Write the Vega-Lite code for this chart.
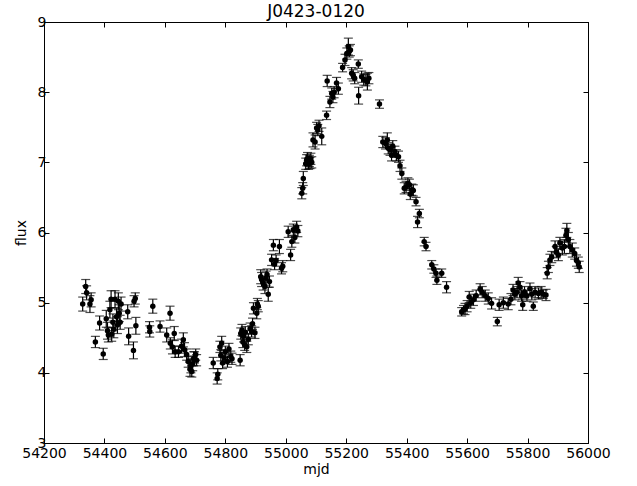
{
  "$schema": "https://vega.github.io/schema/vega-lite/v6.json",
  "width": 544,
  "height": 421,
  "autosize": {"type": "none"},
  "padding": {"left": 44, "top": 22, "right": 49, "bottom": 43},
  "background": "white",
  "title": {"text": "J0423-0120", "font": "DejaVu Sans", "fontSize": 17, "fontWeight": "normal", "color": "black", "offset": 3, "dy": 9},
  "config": {
    "view": {"stroke": "black", "strokeWidth": 1},
    "axis": {
      "grid": false,
      "domainColor": "black",
      "tickColor": "black",
      "tickSize": -5,
      "labelFont": "DejaVu Sans",
      "labelFontSize": 14,
      "labelColor": "black",
      "labelFlush": false,
      "labelOverlap": false,
      "titleFont": "DejaVu Sans",
      "titleFontSize": 14,
      "titleFontWeight": "normal",
      "titleColor": "black"
    }
  },
  "data": {"values": [
    {"mjd": 54328, "flux": 4.98, "err": 0.10}, {"mjd": 54338, "flux": 5.23, "err": 0.10}, {"mjd": 54341, "flux": 5.14, "err": 0.10},
    {"mjd": 54352, "flux": 4.98, "err": 0.12}, {"mjd": 54356, "flux": 5.04, "err": 0.10}, {"mjd": 54370, "flux": 4.44, "err": 0.08},
    {"mjd": 54384, "flux": 4.71, "err": 0.10}, {"mjd": 54396, "flux": 4.27, "err": 0.08}, {"mjd": 54406, "flux": 4.77, "err": 0.12},
    {"mjd": 54410, "flux": 4.60, "err": 0.12}, {"mjd": 54413, "flux": 4.54, "err": 0.10}, {"mjd": 54418, "flux": 4.90, "err": 0.12},
    {"mjd": 54422, "flux": 5.05, "err": 0.12}, {"mjd": 54424, "flux": 4.55, "err": 0.10}, {"mjd": 54428, "flux": 4.72, "err": 0.12},
    {"mjd": 54431, "flux": 4.62, "err": 0.12}, {"mjd": 54435, "flux": 5.05, "err": 0.12}, {"mjd": 54440, "flux": 4.80, "err": 0.12},
    {"mjd": 54443, "flux": 4.68, "err": 0.12}, {"mjd": 54446, "flux": 5.02, "err": 0.12}, {"mjd": 54449, "flux": 4.85, "err": 0.12},
    {"mjd": 54452, "flux": 4.72, "err": 0.10}, {"mjd": 54455, "flux": 4.98, "err": 0.10}, {"mjd": 54477, "flux": 4.87, "err": 0.10},
    {"mjd": 54480, "flux": 4.52, "err": 0.12}, {"mjd": 54496, "flux": 4.32, "err": 0.12}, {"mjd": 54498, "flux": 5.02, "err": 0.08},
    {"mjd": 54502, "flux": 5.06, "err": 0.08}, {"mjd": 54504, "flux": 4.67, "err": 0.12},
    {"mjd": 54549, "flux": 4.65, "err": 0.08}, {"mjd": 54550, "flux": 4.59, "err": 0.08}, {"mjd": 54560, "flux": 4.95, "err": 0.10},
    {"mjd": 54584, "flux": 4.66, "err": 0.08}, {"mjd": 54606, "flux": 4.54, "err": 0.10}, {"mjd": 54617, "flux": 4.85, "err": 0.10},
    {"mjd": 54618, "flux": 4.42, "err": 0.08}, {"mjd": 54625, "flux": 4.37, "err": 0.10}, {"mjd": 54631, "flux": 4.56, "err": 0.10},
    {"mjd": 54634, "flux": 4.30, "err": 0.08}, {"mjd": 54645, "flux": 4.30, "err": 0.08}, {"mjd": 54655, "flux": 4.38, "err": 0.10},
    {"mjd": 54661, "flux": 4.47, "err": 0.10}, {"mjd": 54665, "flux": 4.33, "err": 0.10}, {"mjd": 54672, "flux": 4.26, "err": 0.08},
    {"mjd": 54677, "flux": 4.16, "err": 0.08}, {"mjd": 54683, "flux": 4.05, "err": 0.10}, {"mjd": 54686, "flux": 4.10, "err": 0.10},
    {"mjd": 54689, "flux": 4.02, "err": 0.08}, {"mjd": 54692, "flux": 4.13, "err": 0.10}, {"mjd": 54695, "flux": 4.20, "err": 0.10},
    {"mjd": 54698, "flux": 4.22, "err": 0.08}, {"mjd": 54702, "flux": 4.26, "err": 0.08}, {"mjd": 54705, "flux": 4.18, "err": 0.08},
    {"mjd": 54760, "flux": 4.14, "err": 0.08}, {"mjd": 54773, "flux": 3.92, "err": 0.08}, {"mjd": 54775, "flux": 3.98, "err": 0.08},
    {"mjd": 54782, "flux": 4.37, "err": 0.08}, {"mjd": 54785, "flux": 4.25, "err": 0.08}, {"mjd": 54788, "flux": 4.42, "err": 0.10},
    {"mjd": 54791, "flux": 4.14, "err": 0.08}, {"mjd": 54796, "flux": 4.21, "err": 0.08}, {"mjd": 54800, "flux": 4.30, "err": 0.08},
    {"mjd": 54807, "flux": 4.16, "err": 0.08}, {"mjd": 54812, "flux": 4.34, "err": 0.08}, {"mjd": 54818, "flux": 4.23, "err": 0.08},
    {"mjd": 54822, "flux": 4.20, "err": 0.08}, {"mjd": 54849, "flux": 4.18, "err": 0.08}, {"mjd": 54851, "flux": 4.56, "err": 0.08},
    {"mjd": 54855, "flux": 4.61, "err": 0.08}, {"mjd": 54858, "flux": 4.44, "err": 0.08}, {"mjd": 54860, "flux": 4.52, "err": 0.08},
    {"mjd": 54864, "flux": 4.40, "err": 0.08}, {"mjd": 54866, "flux": 4.58, "err": 0.08}, {"mjd": 54871, "flux": 4.37, "err": 0.08},
    {"mjd": 54876, "flux": 4.48, "err": 0.08}, {"mjd": 54882, "flux": 4.63, "err": 0.08}, {"mjd": 54887, "flux": 4.59, "err": 0.08},
    {"mjd": 54890, "flux": 4.70, "err": 0.08}, {"mjd": 54893, "flux": 4.92, "err": 0.08}, {"mjd": 54898, "flux": 4.57, "err": 0.08},
    {"mjd": 54904, "flux": 4.85, "err": 0.08}, {"mjd": 54906, "flux": 4.98, "err": 0.08}, {"mjd": 54909, "flux": 4.95, "err": 0.08},
    {"mjd": 54917, "flux": 5.37, "err": 0.10}, {"mjd": 54920, "flux": 5.33, "err": 0.10}, {"mjd": 54925, "flux": 5.28, "err": 0.10},
    {"mjd": 54931, "flux": 5.23, "err": 0.10}, {"mjd": 54935, "flux": 5.35, "err": 0.10}, {"mjd": 54938, "flux": 5.40, "err": 0.08},
    {"mjd": 54942, "flux": 5.12, "err": 0.10}, {"mjd": 54946, "flux": 5.30, "err": 0.08}, {"mjd": 54953, "flux": 5.61, "err": 0.08},
    {"mjd": 54959, "flux": 5.82, "err": 0.08}, {"mjd": 54963, "flux": 5.55, "err": 0.08}, {"mjd": 54968, "flux": 5.60, "err": 0.08},
    {"mjd": 54979, "flux": 5.80, "err": 0.10}, {"mjd": 54986, "flux": 5.49, "err": 0.08}, {"mjd": 54990, "flux": 5.52, "err": 0.08},
    {"mjd": 55008, "flux": 6.01, "err": 0.08}, {"mjd": 55016, "flux": 5.68, "err": 0.08}, {"mjd": 55020, "flux": 5.87, "err": 0.08},
    {"mjd": 55025, "flux": 6.04, "err": 0.08}, {"mjd": 55030, "flux": 5.93, "err": 0.08}, {"mjd": 55036, "flux": 6.08, "err": 0.08},
    {"mjd": 55040, "flux": 6.02, "err": 0.08}, {"mjd": 55053, "flux": 6.56, "err": 0.08}, {"mjd": 55056, "flux": 6.63, "err": 0.08},
    {"mjd": 55058, "flux": 6.77, "err": 0.10}, {"mjd": 55066, "flux": 6.98, "err": 0.08}, {"mjd": 55069, "flux": 7.03, "err": 0.08},
    {"mjd": 55072, "flux": 7.06, "err": 0.08}, {"mjd": 55075, "flux": 6.98, "err": 0.08}, {"mjd": 55078, "flux": 7.02, "err": 0.08},
    {"mjd": 55080, "flux": 6.99, "err": 0.08}, {"mjd": 55083, "flux": 7.05, "err": 0.08}, {"mjd": 55086, "flux": 7.00, "err": 0.08},
    {"mjd": 55090, "flux": 7.32, "err": 0.10}, {"mjd": 55097, "flux": 7.29, "err": 0.10}, {"mjd": 55102, "flux": 7.49, "err": 0.08},
    {"mjd": 55106, "flux": 7.46, "err": 0.08}, {"mjd": 55110, "flux": 7.52, "err": 0.08}, {"mjd": 55119, "flux": 7.37, "err": 0.12},
    {"mjd": 55135, "flux": 7.67, "err": 0.06}, {"mjd": 55137, "flux": 8.16, "err": 0.08}, {"mjd": 55146, "flux": 7.86, "err": 0.08},
    {"mjd": 55152, "flux": 7.98, "err": 0.08}, {"mjd": 55156, "flux": 7.93, "err": 0.08}, {"mjd": 55160, "flux": 8.00, "err": 0.08},
    {"mjd": 55168, "flux": 8.13, "err": 0.08}, {"mjd": 55174, "flux": 8.05, "err": 0.08}, {"mjd": 55188, "flux": 8.35, "err": 0.06},
    {"mjd": 55196, "flux": 8.46, "err": 0.08}, {"mjd": 55202, "flux": 8.55, "err": 0.08}, {"mjd": 55207, "flux": 8.65, "err": 0.12},
    {"mjd": 55210, "flux": 8.58, "err": 0.08}, {"mjd": 55214, "flux": 8.60, "err": 0.08}, {"mjd": 55218, "flux": 8.27, "err": 0.08},
    {"mjd": 55223, "flux": 8.24, "err": 0.08}, {"mjd": 55228, "flux": 8.20, "err": 0.08}, {"mjd": 55240, "flux": 8.40, "err": 0.06},
    {"mjd": 55241, "flux": 7.95, "err": 0.12}, {"mjd": 55251, "flux": 8.22, "err": 0.08}, {"mjd": 55258, "flux": 8.18, "err": 0.08},
    {"mjd": 55265, "flux": 8.17, "err": 0.08}, {"mjd": 55270, "flux": 8.15, "err": 0.12}, {"mjd": 55275, "flux": 8.20, "err": 0.08},
    {"mjd": 55310, "flux": 7.83, "err": 0.06},
    {"mjd": 55321, "flux": 7.29, "err": 0.08}, {"mjd": 55330, "flux": 7.27, "err": 0.08}, {"mjd": 55336, "flux": 7.32, "err": 0.10},
    {"mjd": 55339, "flux": 7.20, "err": 0.08}, {"mjd": 55345, "flux": 7.18, "err": 0.08}, {"mjd": 55350, "flux": 7.10, "err": 0.08},
    {"mjd": 55354, "flux": 7.23, "err": 0.08}, {"mjd": 55361, "flux": 7.15, "err": 0.08}, {"mjd": 55366, "flux": 7.10, "err": 0.08},
    {"mjd": 55373, "flux": 7.08, "err": 0.08}, {"mjd": 55378, "flux": 6.95, "err": 0.08}, {"mjd": 55384, "flux": 6.84, "err": 0.08},
    {"mjd": 55392, "flux": 6.63, "err": 0.08}, {"mjd": 55398, "flux": 6.65, "err": 0.08}, {"mjd": 55404, "flux": 6.70, "err": 0.08},
    {"mjd": 55409, "flux": 6.68, "err": 0.08}, {"mjd": 55412, "flux": 6.55, "err": 0.08}, {"mjd": 55417, "flux": 6.61, "err": 0.08},
    {"mjd": 55422, "flux": 6.60, "err": 0.08}, {"mjd": 55431, "flux": 6.44, "err": 0.06}, {"mjd": 55436, "flux": 6.15, "err": 0.08},
    {"mjd": 55442, "flux": 6.27, "err": 0.06}, {"mjd": 55458, "flux": 5.87, "err": 0.06}, {"mjd": 55464, "flux": 5.80, "err": 0.06},
    {"mjd": 55483, "flux": 5.54, "err": 0.06}, {"mjd": 55490, "flux": 5.48, "err": 0.06}, {"mjd": 55497, "flux": 5.42, "err": 0.06},
    {"mjd": 55500, "flux": 5.32, "err": 0.06}, {"mjd": 55516, "flux": 5.42, "err": 0.06}, {"mjd": 55532, "flux": 5.22, "err": 0.08},
    {"mjd": 55582, "flux": 4.87, "err": 0.06}, {"mjd": 55588, "flux": 4.90, "err": 0.06}, {"mjd": 55593, "flux": 4.91, "err": 0.08},
    {"mjd": 55600, "flux": 4.95, "err": 0.08}, {"mjd": 55607, "flux": 5.08, "err": 0.08}, {"mjd": 55612, "flux": 5.00, "err": 0.08},
    {"mjd": 55621, "flux": 5.04, "err": 0.08}, {"mjd": 55630, "flux": 5.10, "err": 0.08}, {"mjd": 55643, "flux": 5.19, "err": 0.08},
    {"mjd": 55650, "flux": 5.15, "err": 0.08}, {"mjd": 55660, "flux": 5.10, "err": 0.08}, {"mjd": 55670, "flux": 5.06, "err": 0.08},
    {"mjd": 55681, "flux": 4.99, "err": 0.08}, {"mjd": 55700, "flux": 4.73, "err": 0.06}, {"mjd": 55706, "flux": 4.97, "err": 0.08},
    {"mjd": 55720, "flux": 5.00, "err": 0.08}, {"mjd": 55736, "flux": 4.98, "err": 0.08}, {"mjd": 55745, "flux": 5.05, "err": 0.08},
    {"mjd": 55752, "flux": 5.18, "err": 0.08}, {"mjd": 55758, "flux": 5.12, "err": 0.08}, {"mjd": 55765, "flux": 5.15, "err": 0.08},
    {"mjd": 55769, "flux": 5.28, "err": 0.08}, {"mjd": 55775, "flux": 5.22, "err": 0.08}, {"mjd": 55780, "flux": 5.10, "err": 0.08},
    {"mjd": 55784, "flux": 4.97, "err": 0.08}, {"mjd": 55790, "flux": 5.15, "err": 0.08}, {"mjd": 55798, "flux": 5.10, "err": 0.08},
    {"mjd": 55808, "flux": 5.20, "err": 0.08}, {"mjd": 55814, "flux": 5.12, "err": 0.08}, {"mjd": 55819, "flux": 4.95, "err": 0.06},
    {"mjd": 55825, "flux": 5.15, "err": 0.08}, {"mjd": 55836, "flux": 5.13, "err": 0.08}, {"mjd": 55845, "flux": 5.15, "err": 0.08},
    {"mjd": 55852, "flux": 5.12, "err": 0.06}, {"mjd": 55861, "flux": 5.11, "err": 0.08}, {"mjd": 55865, "flux": 5.42, "err": 0.08},
    {"mjd": 55869, "flux": 5.51, "err": 0.08}, {"mjd": 55874, "flux": 5.61, "err": 0.08}, {"mjd": 55880, "flux": 5.65, "err": 0.08},
    {"mjd": 55891, "flux": 5.80, "err": 0.08}, {"mjd": 55895, "flux": 5.72, "err": 0.08}, {"mjd": 55902, "flux": 5.68, "err": 0.08},
    {"mjd": 55907, "flux": 5.85, "err": 0.08}, {"mjd": 55915, "flux": 5.78, "err": 0.10}, {"mjd": 55922, "flux": 5.80, "err": 0.10},
    {"mjd": 55927, "flux": 5.96, "err": 0.10}, {"mjd": 55930, "flux": 6.03, "err": 0.10}, {"mjd": 55935, "flux": 5.90, "err": 0.10},
    {"mjd": 55940, "flux": 5.80, "err": 0.10}, {"mjd": 55948, "flux": 5.75, "err": 0.10}, {"mjd": 55956, "flux": 5.70, "err": 0.08},
    {"mjd": 55962, "flux": 5.60, "err": 0.08}, {"mjd": 55968, "flux": 5.57, "err": 0.08}, {"mjd": 55971, "flux": 5.51, "err": 0.08}
  ]},
  "resolve": {"axis": {"x": "independent", "y": "independent"}},
  "layer": [
    {
      "layer": [
        {
          "mark": {"type": "errorbar", "color": "black", "thickness": 1.2, "ticks": {"size": 9, "color": "black", "thickness": 1.2}},
          "encoding": {
            "x": {"field": "mjd", "type": "quantitative"},
            "y": {"field": "flux", "type": "quantitative"},
            "yError": {"field": "err"}
          }
        },
        {
          "mark": {"type": "point", "filled": true, "size": 30, "color": "black", "opacity": 1},
          "encoding": {
            "x": {"field": "mjd", "type": "quantitative"},
            "y": {"field": "flux", "type": "quantitative"}
          }
        }
      ],
      "encoding": {
        "x": {"field": "mjd", "type": "quantitative", "scale": {"domain": [54200, 56000], "nice": false, "zero": false},
          "axis": {"orient": "bottom", "title": "mjd", "values": [54200, 54400, 54600, 54800, 55000, 55200, 55400, 55600, 55800, 56000], "format": "d", "labelPadding": 8, "titlePadding": 2}},
        "y": {"field": "flux", "type": "quantitative", "scale": {"domain": [3, 9], "nice": false, "zero": false},
          "axis": {"orient": "left", "title": "flux", "values": [3, 4, 5, 6, 7, 8, 9], "format": "d", "labelPadding": 3, "titlePadding": 9}}
      }
    },
    {
      "mark": {"type": "point", "opacity": 0},
      "encoding": {
        "x": {"field": "mjd", "type": "quantitative", "axis": {"orient": "top", "labels": false, "title": null, "values": [54200, 54400, 54600, 54800, 55000, 55200, 55400, 55600, 55800, 56000]}},
        "y": {"field": "flux", "type": "quantitative", "axis": {"orient": "right", "labels": false, "title": null, "values": [3, 4, 5, 6, 7, 8, 9]}}
      }
    }
  ]
}
